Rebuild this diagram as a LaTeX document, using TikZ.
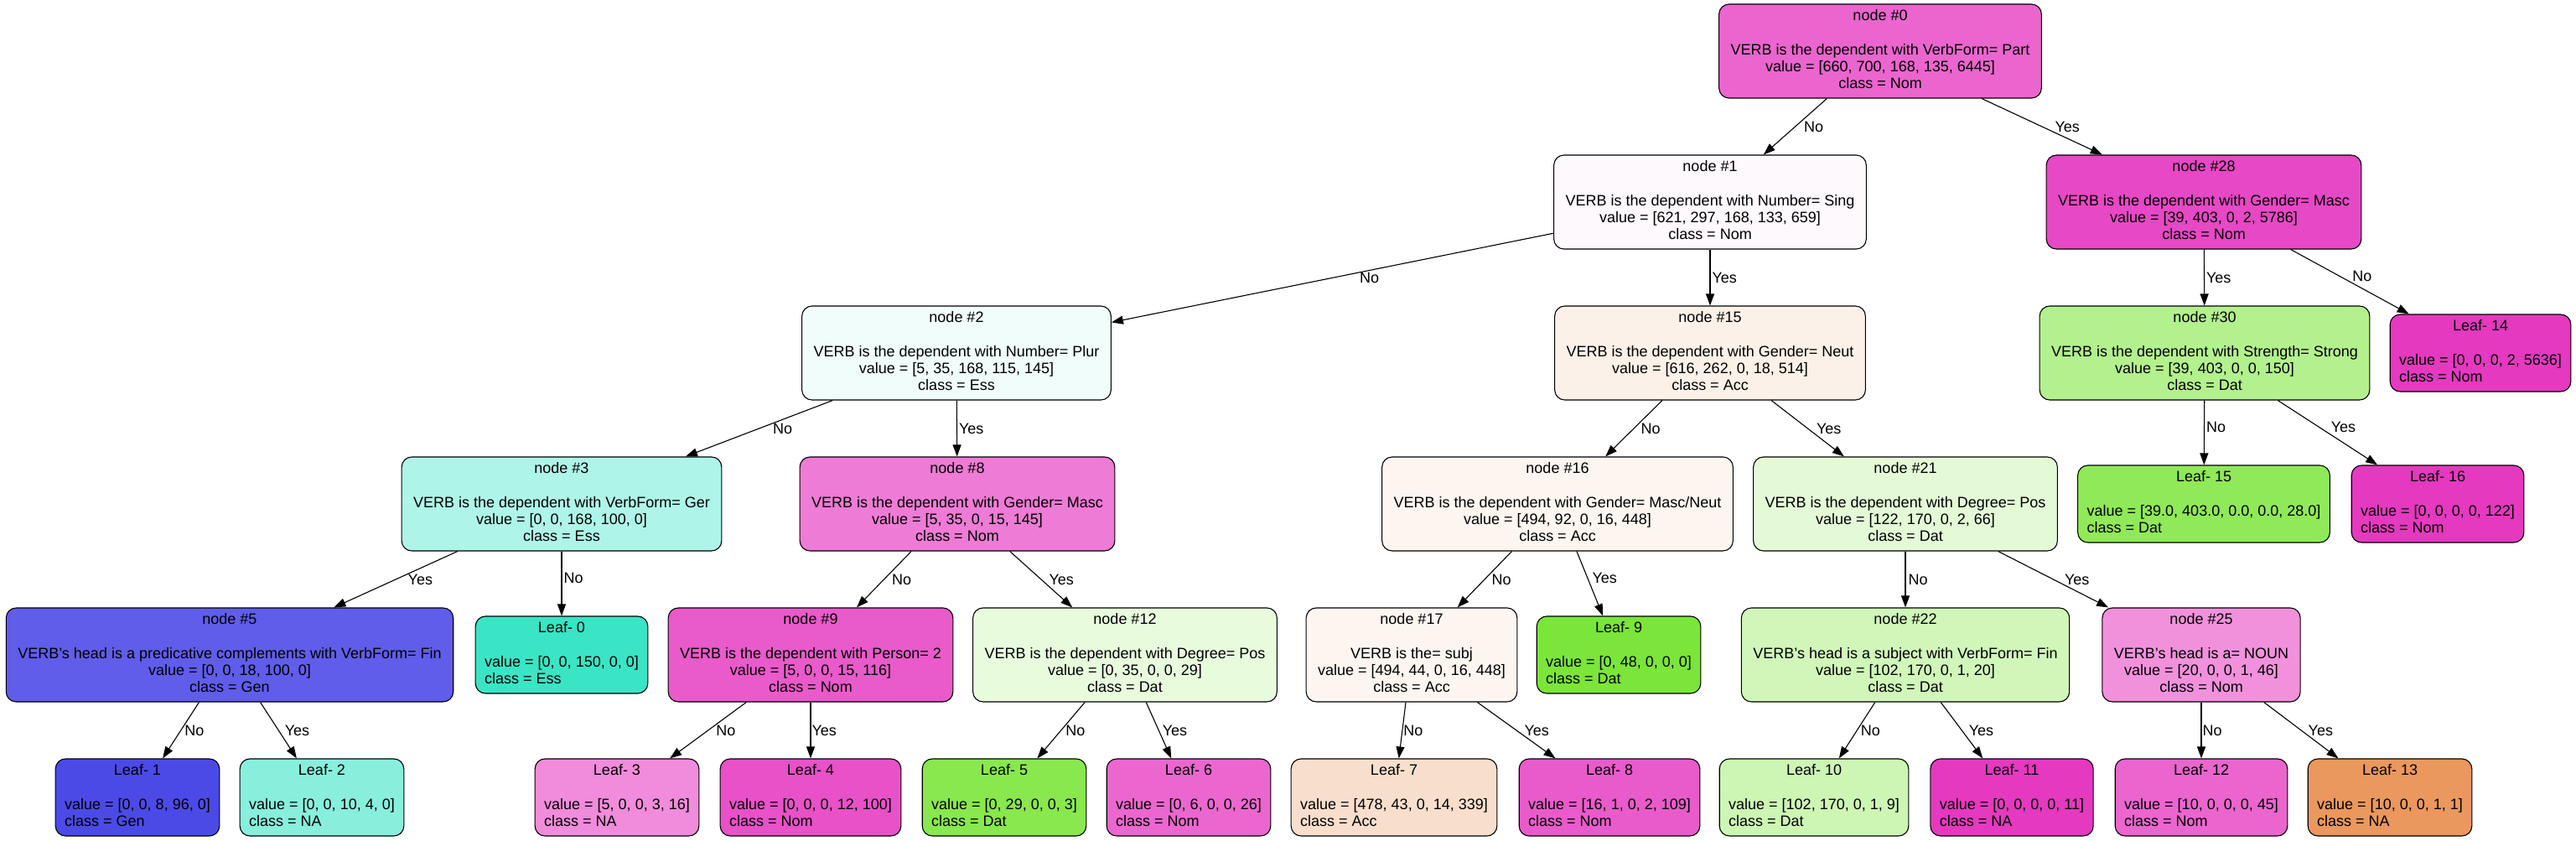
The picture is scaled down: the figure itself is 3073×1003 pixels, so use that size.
\documentclass[tikz,border=0pt]{standalone}
\usepackage{fontspec}
\setmainfont{Liberation Sans}
\usetikzlibrary{arrows.meta}

% Couleurs des noeuds
\definecolor{c0}{RGB}{235,101,206}
\definecolor{c1}{RGB}{254,249,253}
\definecolor{c28}{RGB}{231,72,197}
\definecolor{c2}{RGB}{241,253,251}
\definecolor{c15}{RGB}{252,241,232}
\definecolor{c30}{RGB}{179,240,142}
\definecolor{c3}{RGB}{175,244,232}
\definecolor{c8}{RGB}{238,123,213}
\definecolor{c16}{RGB}{253,245,240}
\definecolor{c21}{RGB}{228,250,215}
\definecolor{c5}{RGB}{95,93,234}
\definecolor{c9}{RGB}{233,90,202}
\definecolor{c12}{RGB}{232,251,221}
\definecolor{c17}{RGB}{253,245,239}
\definecolor{c22}{RGB}{208,246,185}
\definecolor{c25}{RGB}{241,145,220}
\definecolor{cL0}{RGB}{57,229,197}
\definecolor{cL1}{RGB}{76,74,231}
\definecolor{cL2}{RGB}{136,239,220}
\definecolor{cL3}{RGB}{240,140,219}
\definecolor{cL4}{RGB}{232,81,200}
\definecolor{cL5}{RGB}{137,232,77}
\definecolor{cL6}{RGB}{235,103,207}
\definecolor{cL7}{RGB}{248,222,204}
\definecolor{cL8}{RGB}{233,91,203}
\definecolor{cL9}{RGB}{123,229,57}
\definecolor{cL10}{RGB}{205,245,180}
\definecolor{cL11}{RGB}{229,57,192}
\definecolor{cL12}{RGB}{235,101,206}
\definecolor{cL13}{RGB}{234,152,93}
\definecolor{cL14}{RGB}{229,57,192}
\definecolor{cL15}{RGB}{144,233,88}
\definecolor{cL16}{RGB}{229,57,192}

\newcommand{\splitnode}[4]{\begin{tabular}{@{}c@{}}node \##1\\ \\#2\\value = [#3]\\class = #4\end{tabular}}
\newcommand{\leafnode}[3]{\begin{tabular}{@{}l@{}}\multicolumn{1}{@{}c@{}}{Leaf- #1}\\ \\value = [#2]\\class = #3\end{tabular}}

\begin{document}
\begin{tikzpicture}[
    x=1pt, y=-1pt,
    font=\fontsize{18}{20.3}\selectfont,
    dnode/.style={draw, line width=1.1pt, rounded corners=12pt, minimum height=112pt, inner xsep=14pt, inner ysep=0pt},
    lnode/.style={dnode, minimum height=92pt, inner xsep=11pt},
    branch/.style={line width=1.1pt, -{Triangle[length=14pt, width=10pt]}},
    lbl/.style={anchor=west, inner sep=0pt}
]

\useasboundingbox (0,0) rectangle (3073,1003);

% Niveau 0 et 1
\node[dnode, fill=c0] (n0) at (2243,61) {\splitnode{0}{VERB is the dependent with VerbForm= Part}{660, 700, 168, 135, 6445}{Nom}};
\node[dnode, fill=c1] (n1) at (2040,241) {\splitnode{1}{VERB is the dependent with Number= Sing}{621, 297, 168, 133, 659}{Nom}};
\node[dnode, fill=c28] (n28) at (2629,241) {\splitnode{28}{VERB is the dependent with Gender= Masc}{39, 403, 0, 2, 5786}{Nom}};

% Niveau 2
\node[dnode, fill=c2] (n2) at (1141,421) {\splitnode{2}{VERB is the dependent with Number= Plur}{5, 35, 168, 115, 145}{Ess}};
\node[dnode, fill=c15] (n15) at (2040,421) {\splitnode{15}{VERB is the dependent with Gender= Neut}{616, 262, 0, 18, 514}{Acc}};
\node[dnode, fill=c30] (n30) at (2630,421) {\splitnode{30}{VERB is the dependent with Strength= Strong}{39, 403, 0, 0, 150}{Dat}};
\node[lnode, fill=cL14] (L14) at (2959,421) {\leafnode{14}{0, 0, 0, 2, 5636}{Nom}};

% Niveau 3
\node[dnode, fill=c3] (n3) at (670,601) {\splitnode{3}{VERB is the dependent with VerbForm= Ger}{0, 0, 168, 100, 0}{Ess}};
\node[dnode, fill=c8] (n8) at (1142,601) {\splitnode{8}{VERB is the dependent with Gender= Masc}{5, 35, 0, 15, 145}{Nom}};
\node[dnode, fill=c16] (n16) at (1858,601) {\splitnode{16}{VERB is the dependent with Gender= Masc/Neut}{494, 92, 0, 16, 448}{Acc}};
\node[dnode, fill=c21] (n21) at (2273,601) {\splitnode{21}{VERB is the dependent with Degree= Pos}{122, 170, 0, 2, 66}{Dat}};
\node[lnode, fill=cL15] (L15) at (2629,601) {\leafnode{15}{39.0, 403.0, 0.0, 0.0, 28.0}{Dat}};
\node[lnode, fill=cL16] (L16) at (2908,601) {\leafnode{16}{0, 0, 0, 0, 122}{Nom}};

% Niveau 4
\node[dnode, fill=c5] (n5) at (274,781) {\splitnode{5}{VERB's head is a predicative complements with VerbForm= Fin}{0, 0, 18, 100, 0}{Gen}};
\node[lnode, fill=cL0] (L0) at (670,781) {\leafnode{0}{0, 0, 150, 0, 0}{Ess}};
\node[dnode, fill=c9] (n9) at (967,781) {\splitnode{9}{VERB is the dependent with Person= 2}{5, 0, 0, 15, 116}{Nom}};
\node[dnode, fill=c12] (n12) at (1342,781) {\splitnode{12}{VERB is the dependent with Degree= Pos}{0, 35, 0, 0, 29}{Dat}};
\node[dnode, fill=c17] (n17) at (1684,781) {\splitnode{17}{VERB is the= subj}{494, 44, 0, 16, 448}{Acc}};
\node[lnode, fill=cL9] (L9) at (1931,781) {\leafnode{9}{0, 48, 0, 0, 0}{Dat}};
\node[dnode, fill=c22] (n22) at (2273,781) {\splitnode{22}{VERB's head is a subject with VerbForm= Fin}{102, 170, 0, 1, 20}{Dat}};
\node[dnode, fill=c25] (n25) at (2626,781) {\splitnode{25}{VERB's head is a= NOUN}{20, 0, 0, 1, 46}{Nom}};

% Niveau 5 (feuilles)
\node[lnode, fill=cL1] (L1) at (164,951) {\leafnode{1}{0, 0, 8, 96, 0}{Gen}};
\node[lnode, fill=cL2] (L2) at (384,951) {\leafnode{2}{0, 0, 10, 4, 0}{NA}};
\node[lnode, fill=cL3] (L3) at (736,951) {\leafnode{3}{5, 0, 0, 3, 16}{NA}};
\node[lnode, fill=cL4] (L4) at (967,951) {\leafnode{4}{0, 0, 0, 12, 100}{Nom}};
\node[lnode, fill=cL5] (L5) at (1198,951) {\leafnode{5}{0, 29, 0, 0, 3}{Dat}};
\node[lnode, fill=cL6] (L6) at (1418,951) {\leafnode{6}{0, 6, 0, 0, 26}{Nom}};
\node[lnode, fill=cL7] (L7) at (1663,951) {\leafnode{7}{478, 43, 0, 14, 339}{Acc}};
\node[lnode, fill=cL8] (L8) at (1920,951) {\leafnode{8}{16, 1, 0, 2, 109}{Nom}};
\node[lnode, fill=cL10] (L10) at (2164,951) {\leafnode{10}{102, 170, 0, 1, 9}{Dat}};
\node[lnode, fill=cL11] (L11) at (2400,951) {\leafnode{11}{0, 0, 0, 0, 11}{NA}};
\node[lnode, fill=cL12] (L12) at (2626,951) {\leafnode{12}{10, 0, 0, 0, 45}{Nom}};
\node[lnode, fill=cL13] (L13) at (2851,951) {\leafnode{13}{10, 0, 0, 1, 1}{NA}};

% Branches
\draw[branch] (n0) -- node[lbl, xshift=10pt] {No} (n1);
\draw[branch] (n0) -- node[lbl, xshift=15pt] {Yes} (n28);
\draw[branch] (n1) -- node[lbl, xshift=32pt] {No} (n2);
\draw[branch] (n1) -- node[lbl, xshift=2pt] {Yes} (n15);
\draw[branch] (n28) -- node[lbl, xshift=2pt] {Yes} (n30);
\draw[branch] (n28) -- node[lbl, pos=0.42, xshift=14pt] {No} (L14);
\draw[branch] (n2) -- node[lbl, xshift=16pt] {No} (n3);
\draw[branch] (n2) -- node[lbl, xshift=2pt] {Yes} (n8);
\draw[branch] (n15) -- node[lbl, xshift=8pt] {No} (n16);
\draw[branch] (n15) -- node[lbl, xshift=10pt] {Yes} (n21);
\draw[branch] (n30) -- node[lbl, pos=0.42, xshift=2pt] {No} (L15);
\draw[branch] (n30) -- node[lbl, pos=0.42, xshift=13pt] {Yes} (L16);
\draw[branch] (n3) -- node[lbl, xshift=14pt] {Yes} (n5);
\draw[branch] (n3) -- node[lbl, pos=0.42, xshift=2pt] {No} (L0);
\draw[branch] (n8) -- node[lbl, xshift=9pt] {No} (n9);
\draw[branch] (n8) -- node[lbl, xshift=9pt] {Yes} (n12);
\draw[branch] (n16) -- node[lbl, xshift=8pt] {No} (n17);
\draw[branch] (n16) -- node[lbl, pos=0.42, xshift=5pt] {Yes} (L9);
\draw[branch] (n21) -- node[lbl, xshift=3pt] {No} (n22);
\draw[branch] (n21) -- node[lbl, xshift=13pt] {Yes} (n25);
\draw[branch] (n5) -- node[lbl, xshift=4pt] {No} (L1);
\draw[branch] (n5) -- node[lbl, xshift=7pt] {Yes} (L2);
\draw[branch] (n9) -- node[lbl, xshift=9pt] {No} (L3);
\draw[branch] (n9) -- node[lbl, xshift=1pt] {Yes} (L4);
\draw[branch] (n12) -- node[lbl, xshift=5pt] {No} (L5);
\draw[branch] (n12) -- node[lbl, xshift=4pt] {Yes} (L6);
\draw[branch] (n17) -- node[lbl, xshift=1pt] {No} (L7);
\draw[branch] (n17) -- node[lbl, xshift=9pt] {Yes} (L8);
\draw[branch] (n22) -- node[lbl, xshift=4pt] {No} (L10);
\draw[branch] (n22) -- node[lbl, xshift=8pt] {Yes} (L11);
\draw[branch] (n25) -- node[lbl, xshift=1pt] {No} (L12);
\draw[branch] (n25) -- node[lbl, xshift=8pt] {Yes} (L13);

\end{tikzpicture}
\end{document}
